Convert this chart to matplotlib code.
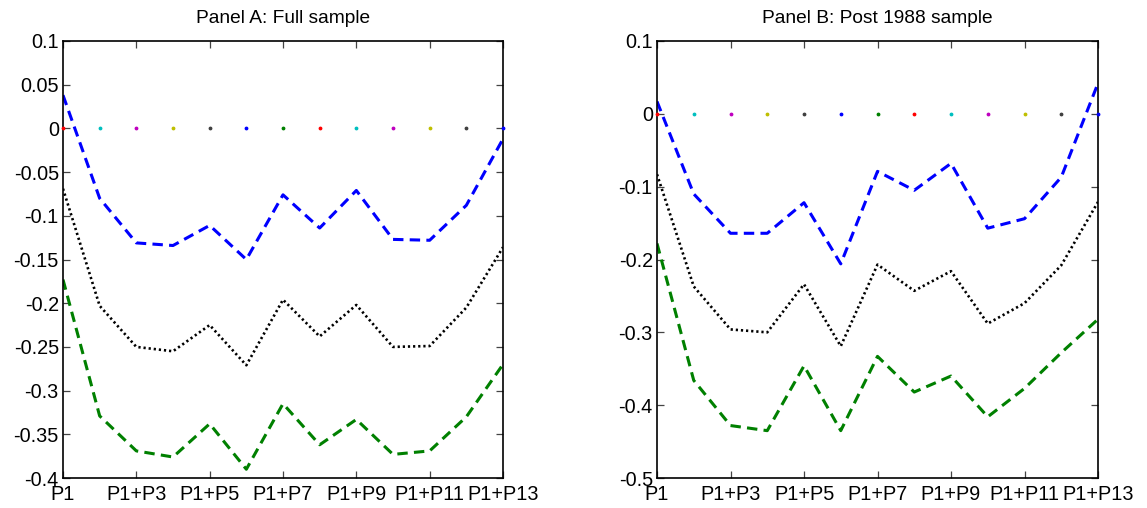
import matplotlib
matplotlib.use('Agg')
import matplotlib.pyplot as plt
import numpy as np

plt.rcParams['font.family'] = ['Liberation Sans', 'DejaVu Sans']
plt.rcParams['lines.scale_dashes'] = False

# horizon index 1..13  (P1, P1+P2, ..., P1+P13)
horizons = np.arange(1, 14)
tick_pos = [1, 3, 5, 7, 9, 11, 13]
tick_labels = ['P1', 'P1+P3', 'P1+P5', 'P1+P7', 'P1+P9', 'P1+P11', 'P1+P13']

# Panel A: full sample
a_upper = [0.038, -0.080, -0.131, -0.134, -0.111, -0.150, -0.076, -0.114, -0.071, -0.127, -0.128, -0.088, -0.012]
a_mid = [-0.069, -0.203, -0.250, -0.255, -0.225, -0.271, -0.196, -0.238, -0.202, -0.250, -0.249, -0.205, -0.136]
a_lower = [-0.173, -0.329, -0.369, -0.376, -0.338, -0.390, -0.315, -0.362, -0.333, -0.373, -0.369, -0.330, -0.270]

# Panel B: post 1988 sample
b_upper = [0.017, -0.110, -0.164, -0.164, -0.122, -0.206, -0.079, -0.105, -0.068, -0.157, -0.144, -0.087, 0.042]
b_mid = [-0.083, -0.237, -0.296, -0.300, -0.234, -0.319, -0.207, -0.243, -0.216, -0.288, -0.260, -0.208, -0.121]
b_lower = [-0.178, -0.366, -0.428, -0.435, -0.346, -0.435, -0.333, -0.382, -0.360, -0.416, -0.377, -0.328, -0.282]

zero_line = [0.0] * 13
dot_colors = ['#ff0000', '#00bfbf', '#bf00bf', '#bfbf00', '#404040', '#0000ff', '#008000',
              '#ff0000', '#00bfbf', '#bf00bf', '#bfbf00', '#404040', '#0000ff']


def draw_panel(ax, upper, mid, lower, title, ylim, yticks):
    for x, y, c in zip(horizons, zero_line, dot_colors):
        ax.plot(x, y, marker='.', markersize=3.5, color=c, linestyle='none', clip_on=False, zorder=3)
    ax.plot(horizons, upper, color='#0000ff', lw=2.2, dashes=(7.5, 4.5), dash_capstyle='butt')
    ax.plot(horizons, mid, color='black', lw=1.9, dashes=(1.6, 2.1), dash_capstyle='butt')
    ax.plot(horizons, lower, color='#008000', lw=2.2, dashes=(7.5, 4.5), dash_capstyle='butt')
    ax.set_xlim(1, 13)
    ax.set_ylim(*ylim)
    ax.set_yticks(yticks)
    ax.set_yticklabels([('%g' % t) for t in yticks])
    ax.set_xticks(tick_pos)
    ax.set_xticklabels(tick_labels)
    ax.tick_params(direction='in', length=5, width=0.9, labelsize=14.3, top=True, right=True,
                   color='#444444', labelcolor='black')
    ax.tick_params(axis='x', pad=5)
    ax.tick_params(axis='y', pad=3)
    for s in ax.spines.values():
        s.set_linewidth(1.2)
        s.set_color('black')
    ax.set_title(title, fontsize=13.8, pad=13)


fig = plt.figure(figsize=(11.47, 5.08), dpi=100)
ax1 = fig.add_axes([63 / 1147, 30 / 508, 440 / 1147, 437 / 508])
ax2 = fig.add_axes([657 / 1147, 30 / 508, 441 / 1147, 437 / 508])

draw_panel(ax1, a_upper, a_mid, a_lower, 'Panel A: Full sample', (-0.4, 0.1),
           [-0.4, -0.35, -0.3, -0.25, -0.2, -0.15, -0.1, -0.05, 0, 0.05, 0.1])
draw_panel(ax2, b_upper, b_mid, b_lower, 'Panel B: Post 1988 sample', (-0.5, 0.1),
           [-0.5, -0.4, -0.3, -0.2, -0.1, 0, 0.1])

fig.savefig('out.png', dpi=100)
